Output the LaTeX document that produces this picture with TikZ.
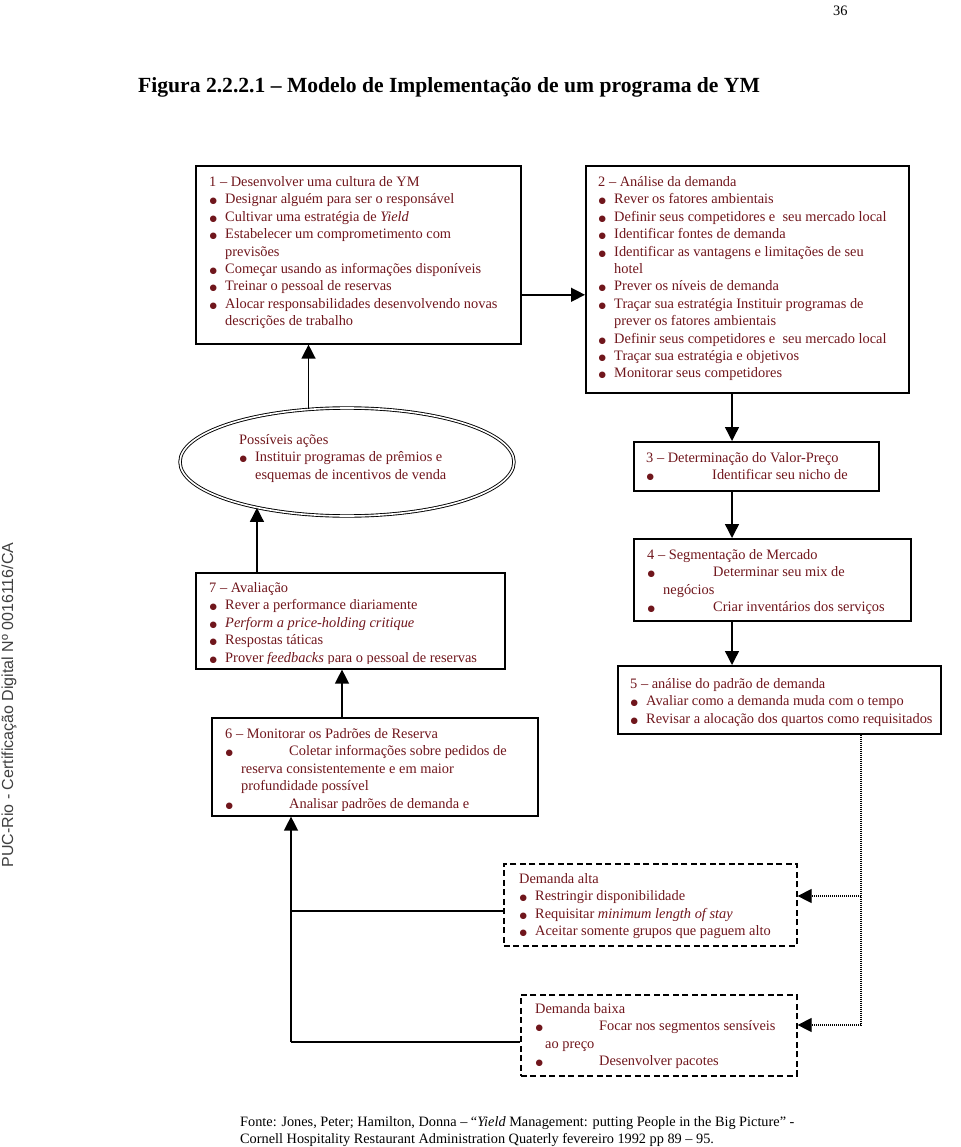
\documentclass[tikz,border=0pt]{standalone}
\usepackage{fontspec}
\usepackage{graphicx}
\setmainfont{Liberation Serif}
\newfontfamily\sidefont{Liberation Sans}
\newfontfamily\dejavu{DejaVu Sans}
\usetikzlibrary{arrows.meta,shapes.geometric,calc}
\definecolor{maroon}{RGB}{112,22,28}
\newcommand\bulw[1]{\makebox[#1][l]{\hspace{0.3pt}{\dejavu\fontsize{8.5}{8.5}\selectfont ●}}}
\newcommand\bul{\bulw{16pt}}
\newcommand\ind[1]{\hspace*{#1}}
\newcommand\lines[1]{\begin{tabular}[t]{@{}l@{}}#1\end{tabular}}
\tikzset{
  box/.style={draw, line width=1.6pt, inner sep=0pt, anchor=north west},
  dbox/.style={box, dash pattern=on 6pt off 3.5pt},
  txt/.style={anchor=base west, inner sep=0pt, text=maroon,
    font=\fontsize{14.4}{17.4}\selectfont},
  arr/.style={line width=1.4pt, -{Triangle[length=14pt,width=14pt]}},
  plain/.style={line width=1.4pt},
  dotl/.style={line width=1.1pt, dash pattern=on 1pt off 1pt},
  dotarr/.style={dotl, -{Triangle[length=14pt,width=14pt]}}
}
\begin{document}
\begin{tikzpicture}[x=1pt,y=-1pt]
\useasboundingbox (0,0) rectangle (960,1147);

% page number, title, side text, footer
\node[anchor=base west, inner sep=0pt, font=\fontsize{14.4}{17}\selectfont] (pnum) at (833,15.5) {36};
\node[anchor=base west, inner sep=0pt, font=\bfseries\fontsize{21.6}{26}\selectfont] (title) at (138,93)
  {Figura 2.2.2.1 – Modelo de Implementação de um programa de YM};
\node[rotate=90, inner sep=0pt, text=black!75, font=\sidefont\fontsize{16}{16}\selectfont] (side) at (9,705)
  {PUC-Rio - Certificação Digital Nº 0016116/CA};
\node[anchor=base west, inner sep=0pt, font=\fontsize{14.3}{17}\selectfont] (foot) at (240,1126.5)
  {\lines{Fonte: Jones, Peter; Hamilton, Donna – “\textit{Yield} Management: putting People in the Big Picture” -\\
   Cornell Hospitality Restaurant Administration Quaterly fevereiro 1992 pp 89 – 95.}};

% box 1
\node[box, minimum width=325, minimum height=178] (b1) at (195,165) {};
\node[txt] (t1) at (209,186.5) {\lines{1 – Desenvolver uma cultura de YM\\
\bul Designar alguém para ser o responsável\\
\bul Cultivar uma estratégia de \textit{Yield}\\
\bul Estabelecer um comprometimento com\\
\ind{16pt}previsões\\
\bul Começar usando as informações disponíveis\\
\bul Treinar o pessoal de reservas\\
\bul Alocar responsabilidades desenvolvendo novas\\
\ind{16pt}descrições de trabalho}};

% box 2
\node[box, minimum width=323, minimum height=227] (b2) at (585,165) {};
\node[txt] (t2) at (598,186.5) {\lines{2 – Análise da demanda\\
\bul Rever os fatores ambientais\\
\bul Definir seus competidores e~ seu mercado local\\
\bul Identificar fontes de demanda\\
\bul Identificar as vantagens e limitações de seu\\
\ind{16pt}hotel\\
\bul Prever os níveis de demanda\\
\bul Traçar sua estratégia Instituir programas de\\
\ind{16pt}prever os fatores ambientais\\
\bul Definir seus competidores e~ seu mercado local\\
\bul Traçar sua estratégia e objetivos\\
\bul Monitorar seus competidores}};

% ellipse
\node[ellipse, draw, double, double distance=1.6pt, line width=0.9pt, minimum width=334,
  minimum height=108, inner sep=0pt] (ell) at (347,462) {};
\node[txt] (te) at (239,444.5) {\lines{Possíveis ações\\
\bul Instituir programas de prêmios e\\
\ind{16pt}esquemas de incentivos de venda}};

% box 3
\node[box, minimum width=245, minimum height=49] (b3) at (633,441) {};
\node[txt] (t3) at (646,462.5) {\lines{3 – Determinação do Valor-Preço\\
\bulw{66pt}Identificar seu nicho de}};

% box 4
\node[box, minimum width=277, minimum height=82] (b4) at (633,538) {};
\node[txt] (t4) at (647,559.5) {\lines{4 – Segmentação de Mercado\\
\bulw{66pt}Determinar seu mix de\\
\ind{16pt}negócios\\
\bulw{66pt}Criar inventários dos serviços}};

% box 5
\node[box, minimum width=323, minimum height=68] (b5) at (617,665) {};
\node[txt] (t5) at (630,688.5) {\lines{5 – análise do padrão de demanda\\
\bul Avaliar como a demanda muda com o tempo\\
\bul Revisar a alocação dos quartos como requisitados}};

% box 7
\node[box, minimum width=309, minimum height=96] (b7) at (195,572) {};
\begin{scope}
\clip (b7.north west) rectangle ($(b7.south east)+(0,-6.5)$);
\node[txt] (t7) at (209,592.5) {\lines{7 – Avaliação\\
\bul Rever a performance diariamente\\
\bul \textit{Perform a price-holding critique}\\
\bul Respostas táticas\\
\bul Prover \textit{feedbacks} para o pessoal de reservas}};
\end{scope}

% box 6
\node[box, minimum width=326, minimum height=98] (b6) at (211,717) {};
\begin{scope}
\clip (b6.north west) rectangle ($(b6.south east)+(0,-6.5)$);
\node[txt] (t6) at (225,738.5) {\lines{6 – Monitorar os Padrões de Reserva\\
\bulw{64pt}Coletar informações sobre pedidos de\\
\ind{16pt}reserva consistentemente e em maior\\
\ind{16pt}profundidade possível\\
\bulw{64pt}Analisar padrões de demanda e}};
\end{scope}

% demanda alta
\node[dbox, minimum width=293, minimum height=82] (alta) at (503,863) {};
\begin{scope}
\clip (alta.north west) rectangle ($(alta.south east)+(0,-7)$);
\node[txt] (ta) at (519,883.5) {\lines{Demanda alta\\
\bul Restringir disponibilidade\\
\bul Requisitar \textit{minimum length of stay}\\
\bul Aceitar somente grupos que paguem alto}};
\end{scope}

% demanda baixa
\node[dbox, minimum width=276, minimum height=81] (baixa) at (520,994) {};
\begin{scope}
\clip (baixa.north west) rectangle ($(baixa.south east)+(0,-8)$);
\node[txt] (tb) at (535,1013.5) {\lines{Demanda baixa\\
\bulw{64pt}Focar nos segmentos sensíveis\\
\ind{10pt}ao preço\\
\bulw{64pt}Desenvolver pacotes}};
\end{scope}

% connector helper coordinates
\coordinate (spine) at (732,500);
\coordinate (c67) at (342,690);
\coordinate (lowc) at (291,1042);
\coordinate (altaj) at (291,911);
\coordinate (dmid) at (861,896);
\coordinate (dbot) at (861,1025);
\coordinate (a12) at ($(b1.east)+(0,40)$);

% connectors
\draw[arr] (a12) -- (a12 -| b2.west);
\draw[arr] (ell.126.6) -- (ell.126.6 |- b1.south);
\draw[arr] (b7.north -| ell.207.9) -- (ell.207.9);
\draw[arr] (b2.south -| spine) -- (b3.north -| spine);
\draw[arr] (b3.south -| spine) -- (b4.north -| spine);
\draw[arr] (b4.south -| spine) -- (b5.north -| spine);
\draw[arr] (b6.north -| c67) -- (b7.south -| c67);
\draw[arr] (lowc) -- (lowc |- b6.south);
\draw[plain] (lowc) -- (lowc -| baixa.west);
\draw[plain] (altaj) -- (altaj -| alta.west);
\draw[dotl] (b5.south -| dbot) -- (dbot);
\draw[dotarr] (dmid) -- (dmid -| alta.east);
\draw[dotarr] (dbot) -- (dbot -| baixa.east);
\end{tikzpicture}
\end{document}
